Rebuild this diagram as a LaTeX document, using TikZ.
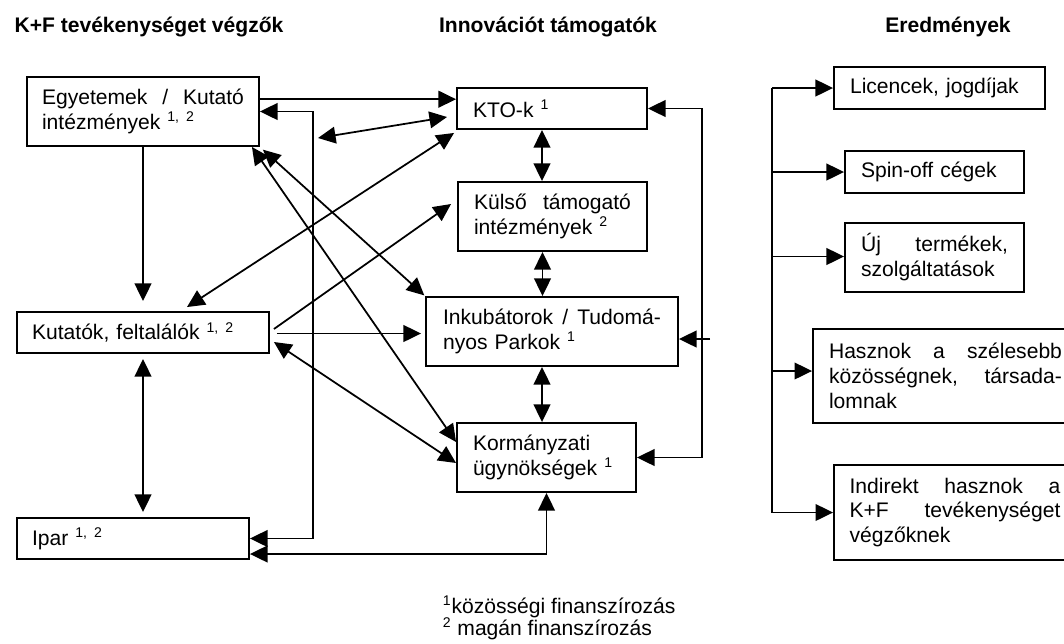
\documentclass[tikz,border=0pt]{standalone}
\usepackage{fontspec}
\setmainfont{Liberation Sans}
\usepackage{tikz}
\usetikzlibrary{arrows.meta,calc}
\tikzset{>={Triangle[length=10pt,width=9.5pt]}}

\begin{document}
\begin{tikzpicture}[
x=0.02cm, y=-0.02cm, line width=1pt,
squarednode/.style={rectangle, align=left, draw=black, line width=1.1pt, inner sep=0pt, font=\fontsize{12}{14.2}\selectfont},
headnode/.style={inner sep=0pt, font=\fontsize{12}{14.2}\selectfont\bfseries},
notenode/.style={anchor=base west, inner sep=0pt, font=\fontsize{12}{14.2}\selectfont},
]
\useasboundingbox (0,0) rectangle (1064,643);

%Headers
\node[headnode](KF head) at (149,27){K+F tevékenységet végzők};
\node[headnode](Innov head) at (548,27){Innovációt támogatók};
\node[headnode](Result head) at (948,27){Eredmények};

%Nodes
\node[squarednode, minimum width=4.64cm, minimum height=1.38cm, text width=4.04cm](Egyetemek) at (143,111.5){Egyetemek \hfill / \hfill Kutató\\intézmények \textsuperscript{1, 2}};
\node[squarednode, minimum width=5.04cm, minimum height=0.82cm, text width=4.44cm](Kutatok) at (143,332.5){Kutatók, feltalálók \textsuperscript{1, 2}};
\node[squarednode, minimum width=4.64cm, minimum height=0.82cm, text width=4.04cm](Ipar) at (133,538.5){Ipar \textsuperscript{1, 2}};

\node[squarednode, minimum width=3.8cm, minimum height=0.82cm, text width=3.16cm](KTO) at (552,108.5){KTO-k \textsuperscript{1}};
\node[squarednode, minimum width=3.78cm, minimum height=1.38cm, text width=3.14cm](Kulso) at (552.5,216.5){Külső \hfill támogató\\intézmények \textsuperscript{2}};
\node[squarednode, minimum width=5.04cm, minimum height=1.38cm, text width=4.36cm](Inkubator) at (552,331.5){Inkubátorok \hfill / \hfill Tudomá-\\nyos Parkok \textsuperscript{1}};
\node[squarednode, minimum width=3.58cm, minimum height=1.38cm, text width=2.94cm](Kormany) at (546.5,457.5){Kormányzati\\ügynökségek \textsuperscript{1}};

\node[squarednode, minimum width=4.22cm, minimum height=0.84cm, text width=3.58cm](Licencek) at (939.5,88){Licencek, jogdíjak};
\node[squarednode, minimum width=3.58cm, minimum height=0.84cm, text width=2.94cm](Spinoff) at (934.5,172){Spin-off cégek};
\node[squarednode, minimum width=3.58cm, minimum height=1.38cm, text width=2.94cm](Termekek) at (934.5,257.5){Új \hfill termékek,\\szolgáltatások};
\node[squarednode, minimum width=5.3cm, minimum height=1.88cm, text width=4.66cm](Tarsadalom) at (945.5,376){Hasznok \hfill a \hfill szélesebb\\közösségnek, \hfill társada-\\lomnak};
\node[squarednode, minimum width=4.84cm, minimum height=1.9cm, text width=4.22cm](Indirekt) at (955,512.5){Indirekt \hfill hasznok \hfill a\hspace*{0.18cm}\\K+F \hfill tevékenységet\\végzőknek};

%Footnotes
\node[notenode](Note one) at (442,613){\textsuperscript{1}közösségi finanszírozás};
\node[notenode](Note two) at (442,635){\textsuperscript{2} magán finanszírozás};

%Bus lines
\coordinate (lbus) at (313,0);
\coordinate (rbus) at (702,0);
\coordinate (obus) at (772,0);
\coordinate (lbus out) at (318,138);
\coordinate (KTO in) at (447,117);
\coordinate (Inkubator in) at (710,339);

%Lines
\draw[->] (Egyetemek.6) -- (Egyetemek.6 -| KTO.west);
\draw[<->] (Egyetemek.east) -| (lbus |- Ipar.east) -- (Ipar.east);
\draw[<->] (lbus out) -- (KTO in);
\draw[->, shorten >=0.2cm] (Egyetemek.south) -- (Kutatok.north);
\draw[<->, shorten <=0.1cm, shorten >=0.1cm] (Kutatok.south) -- (Kutatok.south |- Ipar.north);
\draw[<->] ([xshift=0.88cm,yshift=0.08cm]Kutatok.north) -- ([xshift=-0.04cm,yshift=-0.06cm]KTO.south west);
\draw[->] ([xshift=0.08cm,yshift=0.07cm]Kutatok.east) -- ([xshift=-0.12cm,yshift=0.25cm]Kulso.west);
\draw[->, shorten <=0.14cm, shorten >=0.08cm] ([yshift=-0.02cm]Kutatok.east) -- ([yshift=-0.02cm]Kutatok.east -| Inkubator.west);
\draw[<->, shorten <=0.08cm, shorten >=0.02cm] (Egyetemek.south east) -- (Inkubator.north west);
\draw[<->] ([xshift=-0.16cm]Egyetemek.south east) -- ([yshift=0.31cm]Kormany.west);
\draw[<->] ([xshift=0.08cm,yshift=-0.19cm]Kutatok.east) -- ([yshift=-0.11cm]Kormany.west);
\draw[<->] ([yshift=-0.31cm]Ipar.east) -| (Kormany.south);

\draw[<->] ([xshift=-0.2cm]KTO.south) -- ([xshift=-0.2cm]KTO.south |- Kulso.north);
\draw[<->] ([xshift=-0.2cm]Kulso.south) -- ([xshift=-0.2cm]Kulso.south |- Inkubator.north);
\draw[<->] ([xshift=-0.2cm]Inkubator.south) -- ([xshift=-0.2cm]Inkubator.south |- Kormany.north);
\draw[<->] (KTO.east) -| (rbus |- Kormany.east) -- (Kormany.east);
\draw[->] (Inkubator in) -- (Inkubator in -| Inkubator.east);

\draw (obus |- Licencek.west) -- (obus |- Indirekt.west);
\draw[->] (obus |- Licencek.west) -- (Licencek.west);
\draw[->] (obus |- Spinoff.west) -- (Spinoff.west);
\draw[->] ([yshift=0.02cm]obus |- Termekek.west) -- ([yshift=0.02cm]Termekek.west);
\draw[->] ([yshift=0.1cm]obus |- Tarsadalom.west) -- ([yshift=0.1cm]Tarsadalom.west);
\draw[->] (obus |- Indirekt.west) -- (Indirekt.west);
\end{tikzpicture}
\end{document}
